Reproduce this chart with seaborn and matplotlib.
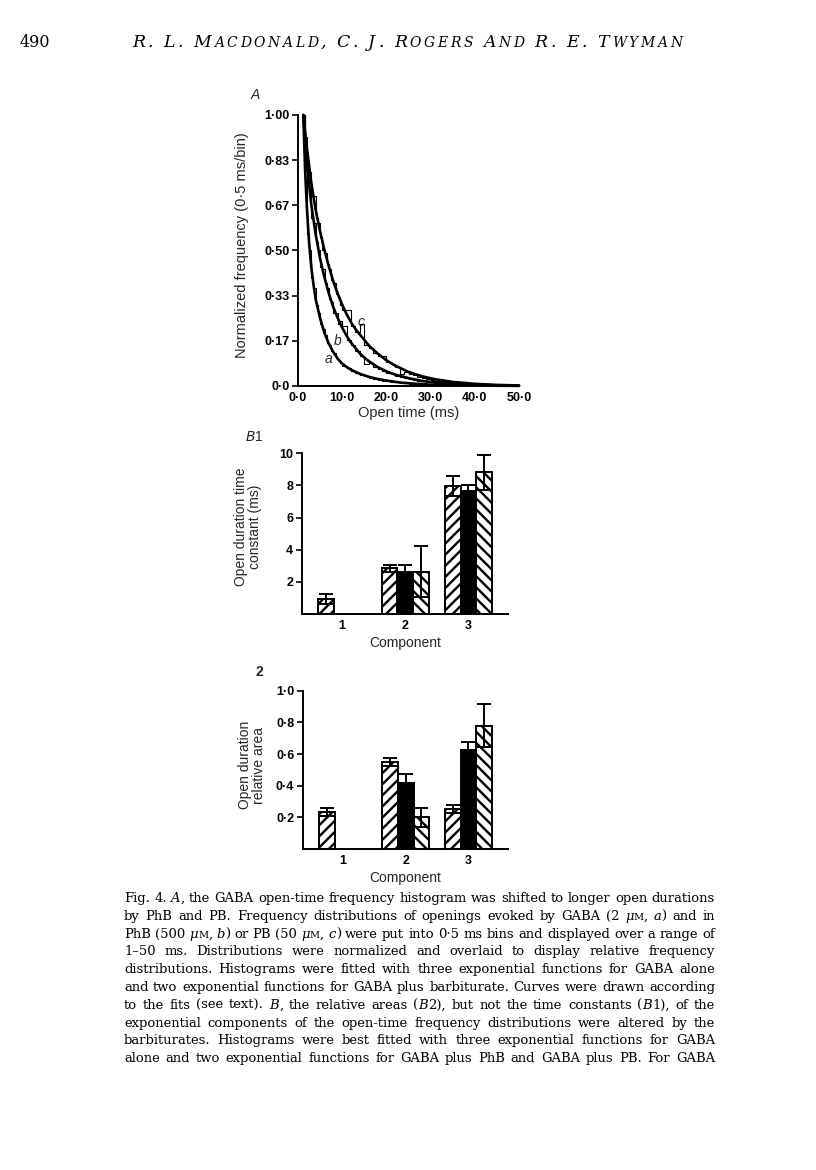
import re
import numpy as np
import pandas as pd
import matplotlib
matplotlib.use('Agg')
import matplotlib.pyplot as plt
import seaborn as sns

# ---- panel A: fitted exponential curves (ms, normalized freq)
a_t = [1.2, 1.6, 2.0, 2.5, 3.0, 3.5, 4.0, 5.0, 6.0, 7.0, 8.0, 9.0, 10.0, 11.0, 12.0,
       14.0, 16.0, 18.0, 20.0, 23.0, 26.0, 30.0, 35.0, 40.0, 50.0]
a_y = [1.0, 0.80, 0.66, 0.53, 0.44, 0.375, 0.32, 0.25, 0.195, 0.155, 0.125, 0.10, 0.083,
       0.07, 0.06, 0.045, 0.034, 0.026, 0.02, 0.013, 0.009, 0.005, 0.003, 0.0015, 0.0005]
b_t = [1.2, 2, 3, 4, 5, 6, 7, 8, 9, 10, 11, 12, 13, 14, 15, 16, 18, 20, 22, 25, 28, 31,
       35, 40, 45, 50]
b_y = [1.0, 0.82, 0.67, 0.56, 0.47, 0.40, 0.34, 0.29, 0.25, 0.215, 0.185, 0.16, 0.14,
       0.12, 0.105, 0.092, 0.07, 0.054, 0.042, 0.029, 0.019, 0.013, 0.008, 0.004, 0.002, 0.001]
c_t = [1.2, 2, 3, 4, 5, 6, 7, 8, 9, 10, 11, 12, 13, 14, 15, 16, 18, 20, 22, 25, 28, 31,
       35, 40, 45, 50]
c_y = [1.0, 0.88, 0.75, 0.65, 0.57, 0.50, 0.44, 0.385, 0.34, 0.30, 0.265, 0.235, 0.21,
       0.19, 0.17, 0.15, 0.12, 0.095, 0.075, 0.052, 0.036, 0.025, 0.015, 0.008, 0.004, 0.002]

# histograms: 0.5 ms bins from 1 to 10 ms, then 1 ms bins from 10 to 40 ms
hist_a_fine = [1.00, 0.74, 0.56, 0.50, 0.40, 0.36, 0.30, 0.27, 0.23, 0.21, 0.19, 0.16,
               0.15, 0.13, 0.12, 0.105, 0.095, 0.085]
hist_a_coarse = [0.075, 0.065, 0.055, 0.048, 0.042, 0.036, 0.031, 0.027, 0.023, 0.02,
                 0.017, 0.015, 0.013, 0.011, 0.01, 0.009, 0.008, 0.007, 0.006, 0.005,
                 0.005, 0.004, 0.004, 0.003, 0.003, 0.003, 0.002, 0.002, 0.002, 0.002]
hist_b_fine = [1.00, 0.86, 0.74, 0.72, 0.62, 0.60, 0.53, 0.50, 0.44, 0.43, 0.38, 0.36,
               0.32, 0.31, 0.27, 0.27, 0.23, 0.24]
hist_b_coarse = [0.22, 0.17, 0.15, 0.13, 0.11, 0.08, 0.085, 0.07, 0.062, 0.055, 0.048,
                 0.043, 0.038, 0.033, 0.029, 0.025, 0.022, 0.019, 0.017, 0.015, 0.013,
                 0.012, 0.01, 0.009, 0.008, 0.007, 0.006, 0.005, 0.005, 0.004]
hist_c_fine = [1.00, 0.92, 0.80, 0.79, 0.70, 0.70, 0.62, 0.60, 0.55, 0.50, 0.49, 0.45,
               0.43, 0.39, 0.38, 0.34, 0.33, 0.30]
hist_c_coarse = [0.28, 0.28, 0.22, 0.20, 0.23, 0.15, 0.14, 0.12, 0.11, 0.11, 0.09, 0.08,
                 0.07, 0.045, 0.05, 0.045, 0.04, 0.035, 0.03, 0.026, 0.023, 0.02, 0.017,
                 0.015, 0.013, 0.012, 0.01, 0.009, 0.008, 0.007]

a_xticks = [0, 10, 20, 30, 40, 50]
a_xticklabels = ['0·0', '10·0', '20·0', '30·0', '40·0', '50·0']
a_yticks = [0, 1/6, 2/6, 3/6, 4/6, 5/6, 1]
a_yticklabels = ['0·0', '0·17', '0·33', '0·50', '0·67', '0·83', '1·00']

# ---- panel B: components and groups
components = ['1', '2', '3']
groups = ['GABA', 'PhB', 'PB']

tau_gaba = [0.93, 2.84, 7.99]
tau_phb = [np.nan, 2.59, 7.68]
tau_pb = [np.nan, 2.63, 8.82]
tau_gaba_err = [0.29, 0.23, 0.62]
tau_phb_err = [np.nan, 0.48, 0.35]
tau_pb_err = [np.nan, 1.60, 1.08]

area_gaba = [0.236, 0.55, 0.25]
area_phb = [np.nan, 0.415, 0.625]
area_pb = [np.nan, 0.20, 0.78]
area_gaba_err = [0.025, 0.028, 0.025]
area_phb_err = [np.nan, 0.061, 0.048]
area_pb_err = [np.nan, 0.061, 0.137]

b1_yticks = [2, 4, 6, 8, 10]
b1_yticklabels = ['2', '4', '6', '8', '10']
b2_yticks = [0.2, 0.4, 0.6, 0.8, 1.0]
b2_yticklabels = ['0·2', '0·4', '0·6', '0·8', '1·0']

header = 'R. L. MACDONALD, C. J. ROGERS AND R. E. TWYMAN'
caption = [
    'Fig. 4. _A_, the GABA open-time frequency histogram was shifted to longer open durations',
    'by PhB and PB. Frequency distributions of openings evoked by GABA (2 _μ_^M^, _a_) and in',
    'PhB (500 _μ_^M^, _b_) or PB (50 _μ_^M^, _c_) were put into 0·5 ms bins and displayed over a range of',
    '1–50 ms. Distributions were normalized and overlaid to display relative frequency',
    'distributions. Histograms were fitted with three exponential functions for GABA alone',
    'and two exponential functions for GABA plus barbiturate. Curves were drawn according',
    'to the fits (see text). _B_, the relative areas (_B_2), but not the time constants (_B_1), of the',
    'exponential components of the open-time frequency distributions were altered by the',
    'barbiturates. Histograms were best fitted with three exponential functions for GABA',
    'alone and two exponential functions for GABA plus PhB and GABA plus PB. For GABA',
]

sns.set_theme(style='ticks')
plt.rcParams['font.family'] = ['Liberation Sans', 'DejaVu Sans']
plt.rcParams['hatch.linewidth'] = 1.7

W, H = 816, 1170
fig = plt.figure(figsize=(W / 100, H / 100), dpi=100)
fig.patch.set_facecolor('white')


def fx(px):
    return px / W


def fy(py):
    return 1 - py / H


def style_axis(ax):
    sns.despine(ax=ax)
    for s in ['left', 'bottom']:
        ax.spines[s].set_linewidth(1.4)
        ax.spines[s].set_color('black')
    ax.tick_params(axis='y', length=4, width=1.2, color='black', pad=2)
    ax.tick_params(axis='x', length=0, pad=4)
    for lab in ax.get_xticklabels() + ax.get_yticklabels():
        lab.set_fontsize(9)
        lab.set_fontweight('bold')
        lab.set_color('black')
    ax.set_facecolor('none')


# ---------------- panel A
axA = fig.add_axes([fx(298), fy(386), (519 - 298) / W, (386 - 115) / H])
edges = [1 + 0.5 * i for i in range(len(hist_a_fine) + 1)]
edges += [edges[-1] + i for i in range(1, len(hist_a_coarse) + 1)]
centers = [(lo + hi) / 2 for lo, hi in zip(edges[:-1], edges[1:])]
for fine, coarse in [(hist_a_fine, hist_a_coarse), (hist_b_fine, hist_b_coarse),
                     (hist_c_fine, hist_c_coarse)]:
    hd = pd.DataFrame({'t': centers, 'w': fine + coarse})
    sns.histplot(data=hd, x='t', weights='w', bins=edges, element='step', fill=False,
                 color='black', linewidth=0.8, ax=axA)
for t, y in [(a_t, a_y), (b_t, b_y), (c_t, c_y)]:
    sns.lineplot(x=t, y=y, color='black', linewidth=1.9, sort=False,
                 estimator=None, ax=axA)
for ln in axA.lines:
    ln.set_clip_on(False)
axA.set_xlim(0, 50)
axA.set_ylim(0, 1)
axA.set_xticks(a_xticks, a_xticklabels)
axA.set_yticks(a_yticks, a_yticklabels)
axA.set_xlabel('Open time (ms)', fontsize=10.5, labelpad=2)
axA.set_ylabel('Normalized frequency (0·5 ms/bin)', fontsize=10.5)
axA.yaxis.set_label_coords(-0.22, 0.52)
style_axis(axA)
for txt, (x, y) in zip(['a', 'b', 'c'], [(7.0, 0.10), (9.0, 0.165), (14.3, 0.235)]):
    axA.text(x, y, txt, fontsize=10, style='italic', ha='center', va='center')
fig.text(fx(255), fy(95), 'A', fontsize=10, style='italic', ha='center', va='center')


# ---------------- panel B
def long_df(g, p, pb):
    rows = []
    for grp, vals in zip(groups, [g, p, pb]):
        for comp, v in zip(components, vals):
            rows.append({'component': comp, 'group': grp, 'value': v})
    return pd.DataFrame(rows).dropna()


def bar_panel(ax, df, errs, yticks, yticklabels, ylim, ylabel, lab_xy):
    pal = {'GABA': 'white', 'PhB': 'black', 'PB': 'white'}
    sns.barplot(data=df, x='component', y='value', hue='group', hue_order=groups,
                order=components, palette=pal, width=0.75, errorbar=None,
                edgecolor='black', linewidth=1.4, legend=False, ax=ax)
    hatches = {'GABA': '///', 'PhB': '', 'PB': '\\\\\\'}
    for cont, grp in zip(ax.containers, groups):
        for p in cont.patches:
            p.set_hatch(hatches[grp])
            xc = p.get_x() + p.get_width() / 2
            ci = int(round(xc))
            e = errs[grp][ci]
            ax.errorbar(xc, p.get_height(), yerr=e, fmt='none', ecolor='black',
                        elinewidth=1.4, capsize=5, capthick=1.4, zorder=5)
    ax.set_xlim(-0.64, 2.63)
    ax.set_ylim(*ylim)
    ax.set_yticks(yticks, yticklabels)
    ax.set_xlabel('Component', fontsize=10, labelpad=3)
    ax.set_ylabel(ylabel, fontsize=10, linespacing=1.0)
    ax.yaxis.set_label_coords(*lab_xy)
    style_axis(ax)


axB1 = fig.add_axes([fx(301.7), fy(614), 206.6 / W, (614 - 453.3) / H])
bar_panel(axB1, long_df(tau_gaba, tau_phb, tau_pb),
          {'GABA': tau_gaba_err, 'PhB': tau_phb_err, 'PB': tau_pb_err},
          b1_yticks, b1_yticklabels, (0, 10), 'Open duration time\nconstant (ms)',
          (-0.19, 0.54))
fig.text(fx(245), fy(437), r'$\it{B}$1', fontsize=10, ha='left', va='center')

axB2 = fig.add_axes([fx(302.7), fy(849), 205.3 / W, (849 - 690.7) / H])
bar_panel(axB2, long_df(area_gaba, area_phb, area_pb),
          {'GABA': area_gaba_err, 'PhB': area_phb_err, 'PB': area_pb_err},
          b2_yticks, b2_yticklabels, (0, 1.0), 'Open duration\nrelative area',
          (-0.18, 0.53))
fig.text(fx(259), fy(672), '2', fontsize=10, fontweight='bold', ha='center', va='center')

# ---------------- page text
renderer = fig.canvas.get_renderer()
SERIF = 'DejaVu Serif'


def make_words(line, size):
    words = []
    for tok in line.split(' '):
        parts = []
        for piece in re.split(r'(_[^_]+_|\^[^^]+\^)', tok):
            if not piece:
                continue
            kw = dict(style='normal', size=size)
            if piece.startswith('_'):
                kw['style'] = 'italic'
                piece = piece[1:-1]
            elif piece.startswith('^'):
                kw['size'] = size * 0.75
                piece = piece[1:-1]
            t = fig.text(0, 0, piece, family=SERIF, va='baseline', ha='left',
                         color='black', **kw)
            parts.append((t, t.get_window_extent(renderer).width))
        words.append(parts)
    return words


def natural_width(line, size):
    words = make_words(line, size)
    total = sum(w for p in words for _, w in p) + (len(words) - 1) * 0.32 * size * 100 / 72
    for p in words:
        for t, _ in p:
            t.remove()
    return total


def draw_justified(line, x0, x1, base, size):
    words = make_words(line, size)
    widths = [sum(w for _, w in p) for p in words]
    gap = (x1 - x0 - sum(widths)) / max(len(words) - 1, 1)
    x = x0
    for parts, wd in zip(words, widths):
        xx = x
        for t, w in parts:
            t.set_position((fx(xx), fy(base)))
            xx += w
        x += wd + gap


def draw_smallcaps(text, x0, x1, base, size):
    items = []
    sp = size * 100 / 72 * 0.3
    for word in text.split(' '):
        for k, ch in enumerate(word):
            s = size if (k == 0 or not ch.isalpha()) else size * 0.8
            t = fig.text(0, fy(base), ch, family=SERIF, style='italic', size=s,
                         va='baseline', ha='left', color='black')
            items.append((t, t.get_window_extent(renderer).width))
        items.append((None, sp))
    items = items[:-1]
    extra = (x1 - x0 - sum(w for _, w in items)) / (len(items) - 1)
    x = x0
    for t, w in items:
        if t is not None:
            t.set_x(fx(x))
        x += w + extra


fig.text(fx(20), fy(47), '490', family=SERIF, size=11.5, va='baseline',
         ha='left', color='black')
draw_smallcaps(header, 132, 682, 47, 12.5)

# pick the caption size so the tightest line fits with normal word spaces
cap_x0, cap_x1 = 124, 715
base_size = 10.0
widest = max(natural_width(line, base_size) for line in caption)
cap_size = base_size * (cap_x1 - cap_x0) / widest
for i, line in enumerate(caption):
    draw_justified(line, cap_x0, cap_x1, 902 + i * 17.8, cap_size)

fig.savefig('out.png', dpi=100, facecolor='white')
